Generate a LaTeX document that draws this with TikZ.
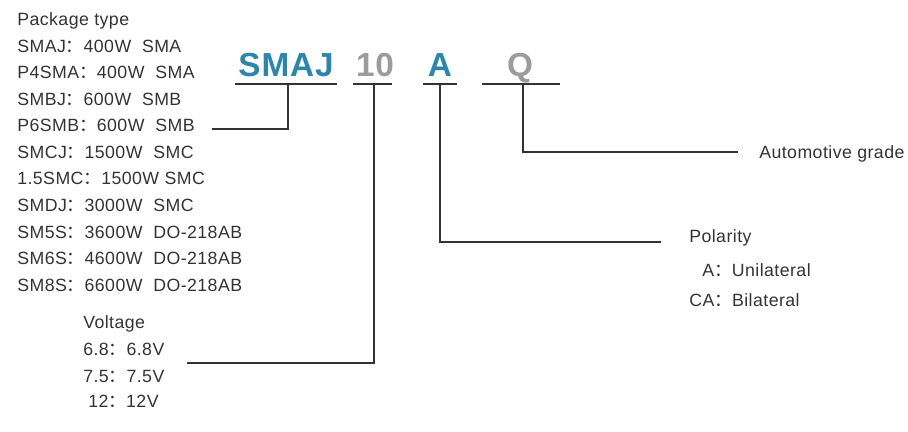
\documentclass[tikz,border=0pt]{standalone}
\usepackage{fontspec}
\setmainfont{Liberation Sans}[LetterSpace=2.5]
\newfontfamily\cjk{Noto Sans CJK SC}
\usetikzlibrary{positioning}
\definecolor{codeblue}{HTML}{2B86AE}
\definecolor{codegray}{HTML}{9B9B9B}
\definecolor{ink}{HTML}{333333}
\newcommand{\fwcolon}{{\cjk ：}}

\begin{document}
\begin{tikzpicture}[x=0.75pt,y=-0.75pt,
  txt/.style={anchor=base west,inner sep=0pt,text=ink,font=\fontsize{13.3}{15}\selectfont},
  code/.style={anchor=base,inner sep=0pt,font=\fontsize{25}{28}\selectfont\bfseries},
  bar/.style={line width=1.5pt,draw=ink},
  lead/.style={line width=0.9pt,draw=ink}]
\useasboundingbox (0,0) rectangle (908,432);

% part number
\node[code,text=codeblue] (smaj) at (286,76) {SMAJ};
\node[code,text=codegray] (volt) at (375,76) {10};
\node[code,text=codeblue] (pol)  at (440,76) {A};
\node[code,text=codegray] (auto) at (520,76) {Q};
\draw[bar] (235,84) -- (337,84);
\draw[bar] (353,84) -- (392,84);
\draw[bar] (423,84) -- (457,84);
\draw[bar] (482,84) -- (560,84);
\coordinate (smajtick) at (288,84);
\coordinate (volttick) at (374,84);
\coordinate (poltick)  at (440,84);
\coordinate (autotick) at (523,84);

% package type
\node[txt] (pkg)   at (17,26)  {Package type};
\node[txt] (pk1)   at (17,52)  {SMAJ\fwcolon 400W\ \ SMA};
\node[txt] (pk2)   at (17,79)  {P4SMA\fwcolon 400W\ \ SMA};
\node[txt] (pk3)   at (17,105) {SMBJ\fwcolon 600W\ \ SMB};
\node[txt] (pk4)   at (17,131) {P6SMB\fwcolon 600W\ \ SMB};
\node[txt] (pk5)   at (17,158) {SMCJ\fwcolon 1500W\ \ SMC};
\node[txt] (pk6)   at (17,184) {1.5SMC\fwcolon 1500W SMC};
\node[txt] (pk7)   at (17,211) {SMDJ\fwcolon 3000W\ \ SMC};
\node[txt] (pk8)   at (17,238) {SM5S\fwcolon 3600W\ \ DO-218AB};
\node[txt] (pk9)   at (17,264) {SM6S\fwcolon 4600W\ \ DO-218AB};
\node[txt] (pk10)  at (17,291) {SM8S\fwcolon 6600W\ \ DO-218AB};

% voltage
\node[txt] (vlt)   at (83,328) {Voltage};
\node[txt] (v1)    at (83,355) {6.8\fwcolon 6.8V};
\node[txt] (v2)    at (83,382) {7.5\fwcolon 7.5V};
\node[txt] (v3)    at (88,407) {12\fwcolon 12V};

% polarity
\node[txt] (plr)   at (689,242) {Polarity};
\node[txt] (p1)    at (702,276) {A\fwcolon Unilateral};
\node[txt] (p2)    at (689,306) {CA\fwcolon Bilateral};

% automotive
\node[txt] (ag)    at (759,158) {Automotive grade};

% leaders
\coordinate (pkgend)  at (212,129);
\coordinate (vltend)  at (187,363);
\coordinate (plrend)  at (661,242);
\coordinate (agend)   at (738,152);
\draw[lead] (pkgend) -| (smajtick);
\draw[lead] (vltend) -| (volttick);
\draw[lead] (poltick) |- (plrend);
\draw[lead] (autotick) |- (agend);
\end{tikzpicture}
\end{document}
